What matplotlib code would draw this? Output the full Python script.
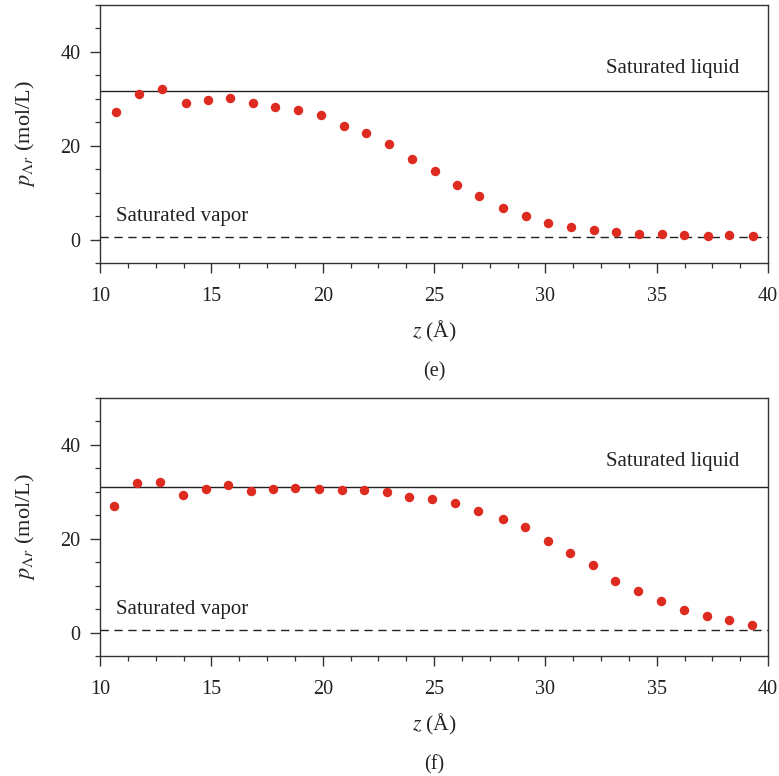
import matplotlib
matplotlib.use("Agg")
import matplotlib.pyplot as plt
from matplotlib.ticker import MultipleLocator

plt.rcParams['font.family'] = ['Liberation Serif', 'DejaVu Serif']
plt.rcParams['mathtext.fontset'] = 'stix'

# argon density profiles along z, panels (e) and (f)
z_e = [10.72, 11.77, 12.80, 13.85, 14.85, 15.84, 16.87, 17.87, 18.88, 19.91,
       20.97, 21.94, 22.99, 24.01, 25.03, 26.05, 27.02, 28.10, 29.11, 30.13,
       31.13, 32.20, 33.17, 34.20, 35.24, 36.21, 37.29, 38.27, 39.33]
rho_e = [27.1, 31.0, 32.1, 29.1, 29.8, 30.2, 29.2, 28.2, 27.7, 26.6,
         24.3, 22.7, 20.3, 17.2, 14.6, 11.6, 9.3, 6.8, 5.0, 3.6,
         2.6, 2.0, 1.5, 1.2, 1.1, 1.0, 0.8, 1.0, 0.8]

z_f = [10.64, 11.66, 12.70, 13.71, 14.76, 15.75, 16.80, 17.78, 18.77, 19.83,
       20.85, 21.85, 22.87, 23.87, 24.92, 25.94, 26.99, 28.08, 29.10, 30.12,
       31.12, 32.14, 33.15, 34.18, 35.19, 36.21, 37.24, 38.23, 39.29]
rho_f = [26.9, 31.8, 32.1, 29.4, 30.7, 31.4, 30.2, 30.5, 30.9, 30.5,
         30.4, 30.3, 29.9, 28.9, 28.4, 27.6, 25.9, 24.3, 22.4, 19.6,
         16.9, 14.3, 11.1, 8.9, 6.7, 4.9, 3.6, 2.7, 1.7]

liquid = [31.6, 31.1]
vapor = [0.5, 0.5]
panel_tags = ['(e)', '(f)']

TXT = '#222222'
RED = '#de2b1f'

fig = plt.figure(figsize=(7.79, 7.76), dpi=100)
ax_e = fig.add_axes([0.1284, 0.6611, 0.8575, 0.3325])
ax_f = fig.add_axes([0.1284, 0.1546, 0.8575, 0.3325])

for ax, z, rho, liq, vap, tag in zip([ax_e, ax_f], [z_e, z_f], [rho_e, rho_f],
                                      liquid, vapor, panel_tags):
    ax.axhline(liq, color='#222222', lw=1.0)
    ax.axhline(vap, color='#222222', lw=1.0, ls=(0, (6, 4)))
    ax.plot(z, rho, 'o', color=RED, ms=6.8, mec='none', zorder=3)

    ax.text(38.7, 36.4, 'Saturated liquid', ha='right', va='center',
            fontsize=15, color=TXT)
    ax.text(10.72, 5.0, 'Saturated vapor', ha='left', va='center',
            fontsize=15, color=TXT)

    ax.set_xlim(10, 40)
    ax.set_ylim(-5, 50)
    ax.xaxis.set_major_locator(MultipleLocator(5))
    ax.xaxis.set_minor_locator(MultipleLocator(1.25))
    ax.yaxis.set_major_locator(MultipleLocator(20))
    ax.yaxis.set_minor_locator(MultipleLocator(5))
    ax.tick_params(which='both', direction='out', colors='#333333',
                   labelcolor=TXT, labelsize=14.5, top=False, right=False)
    ax.tick_params(which='major', length=7.2, width=1.0, pad=7)
    ax.tick_params(axis='x', which='major', pad=10)
    ax.tick_params(which='minor', length=3.6, width=0.9)
    for sp in ax.spines.values():
        sp.set_color('#333333')
        sp.set_linewidth(1.0)

    ax.set_xlabel(r'$z$ (Å)', fontsize=15.5, color=TXT, va='center')
    ax.xaxis.set_label_coords(0.5, -0.266)
    ax.set_ylabel(r'$p_{\Lambda r}$ (mol/L)', fontsize=16, color=TXT,
                  va='center', ha='center')
    ax.yaxis.set_label_coords(-0.112, 0.5)
    ax.text(0.5, -0.421, tag, transform=ax.transAxes, ha='center', va='center',
            fontsize=14.5, color=TXT)

fig.savefig('out.png', dpi=100)
